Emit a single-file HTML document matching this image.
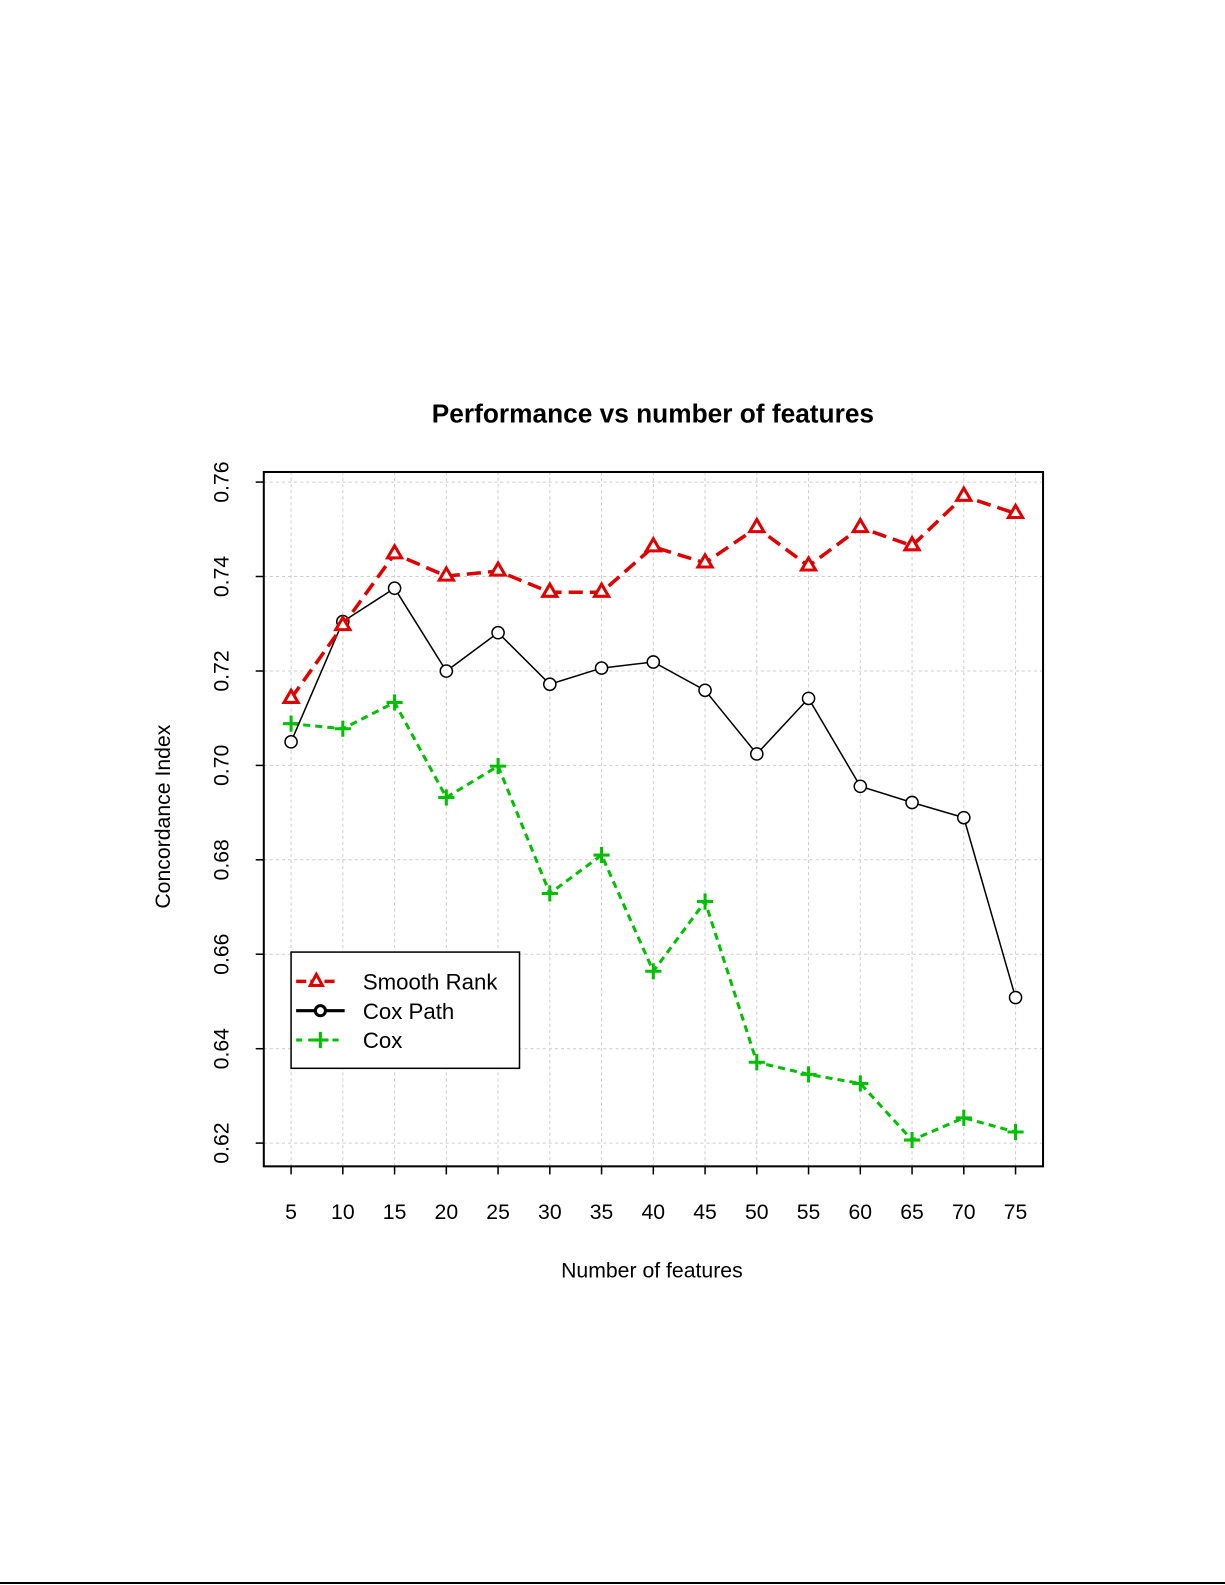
<!DOCTYPE html>
<html><head><style>body{margin:0;background:#fff}svg{display:block}</style></head><body>
<svg width="1225" height="1585" xmlns="http://www.w3.org/2000/svg" font-family="Liberation Sans, sans-serif">
<rect width="1225" height="1585" fill="#fff"/>
<line x1="0" y1="1583" x2="1225" y2="1583" stroke="#000" stroke-width="2"/>
<g transform="scale(1.0107)">
<text x="646" y="418" text-anchor="middle" font-size="26" font-weight="bold">Performance vs number of features</text>
<g stroke="#ccc" stroke-width="1" stroke-dasharray="3,3">
<line x1="288" y1="467" x2="288" y2="1154"/><line x1="339.2" y1="467" x2="339.2" y2="1154"/><line x1="390.4" y1="467" x2="390.4" y2="1154"/><line x1="441.6" y1="467" x2="441.6" y2="1154"/><line x1="492.8" y1="467" x2="492.8" y2="1154"/><line x1="544" y1="467" x2="544" y2="1154"/><line x1="595.2" y1="467" x2="595.2" y2="1154"/><line x1="646.4" y1="467" x2="646.4" y2="1154"/><line x1="697.6" y1="467" x2="697.6" y2="1154"/><line x1="748.8" y1="467" x2="748.8" y2="1154"/><line x1="800" y1="467" x2="800" y2="1154"/><line x1="851.2" y1="467" x2="851.2" y2="1154"/><line x1="902.4" y1="467" x2="902.4" y2="1154"/><line x1="953.6" y1="467" x2="953.6" y2="1154"/><line x1="1004.8" y1="467" x2="1004.8" y2="1154"/>
<line x1="261" y1="477" x2="1032" y2="477"/><line x1="261" y1="570.4" x2="1032" y2="570.4"/><line x1="261" y1="663.9" x2="1032" y2="663.9"/><line x1="261" y1="757.3" x2="1032" y2="757.3"/><line x1="261" y1="850.7" x2="1032" y2="850.7"/><line x1="261" y1="944.1" x2="1032" y2="944.1"/><line x1="261" y1="1037.6" x2="1032" y2="1037.6"/><line x1="261" y1="1131" x2="1032" y2="1131"/>
</g>
<rect x="261" y="467" width="771" height="687" fill="none" stroke="#000" stroke-width="2"/>
<g stroke="#000" stroke-width="1.5">
<line x1="261" y1="477" x2="253" y2="477"/><line x1="261" y1="570.4" x2="253" y2="570.4"/><line x1="261" y1="663.9" x2="253" y2="663.9"/><line x1="261" y1="757.3" x2="253" y2="757.3"/><line x1="261" y1="850.7" x2="253" y2="850.7"/><line x1="261" y1="944.1" x2="253" y2="944.1"/><line x1="261" y1="1037.6" x2="253" y2="1037.6"/><line x1="261" y1="1131" x2="253" y2="1131"/>
<line x1="288" y1="1154" x2="288" y2="1162"/><line x1="339.2" y1="1154" x2="339.2" y2="1162"/><line x1="390.4" y1="1154" x2="390.4" y2="1162"/><line x1="441.6" y1="1154" x2="441.6" y2="1162"/><line x1="492.8" y1="1154" x2="492.8" y2="1162"/><line x1="544" y1="1154" x2="544" y2="1162"/><line x1="595.2" y1="1154" x2="595.2" y2="1162"/><line x1="646.4" y1="1154" x2="646.4" y2="1162"/><line x1="697.6" y1="1154" x2="697.6" y2="1162"/><line x1="748.8" y1="1154" x2="748.8" y2="1162"/><line x1="800" y1="1154" x2="800" y2="1162"/><line x1="851.2" y1="1154" x2="851.2" y2="1162"/><line x1="902.4" y1="1154" x2="902.4" y2="1162"/><line x1="953.6" y1="1154" x2="953.6" y2="1162"/><line x1="1004.8" y1="1154" x2="1004.8" y2="1162"/>
</g>
<g font-size="21" text-anchor="middle">
<text x="288" y="1206">5</text><text x="339.2" y="1206">10</text><text x="390.4" y="1206">15</text><text x="441.6" y="1206">20</text><text x="492.8" y="1206">25</text><text x="544" y="1206">30</text><text x="595.2" y="1206">35</text><text x="646.4" y="1206">40</text><text x="697.6" y="1206">45</text><text x="748.8" y="1206">50</text><text x="800" y="1206">55</text><text x="851.2" y="1206">60</text><text x="902.4" y="1206">65</text><text x="953.6" y="1206">70</text><text x="1004.8" y="1206">75</text>
<text transform="translate(226,477) rotate(-90)">0.76</text><text transform="translate(226,570.4) rotate(-90)">0.74</text><text transform="translate(226,663.9) rotate(-90)">0.72</text><text transform="translate(226,757.3) rotate(-90)">0.70</text><text transform="translate(226,850.7) rotate(-90)">0.68</text><text transform="translate(226,944.1) rotate(-90)">0.66</text><text transform="translate(226,1037.6) rotate(-90)">0.64</text><text transform="translate(226,1131) rotate(-90)">0.62</text>
<text x="645" y="1264">Number of features</text>
<text transform="translate(168,808) rotate(-90)">Concordance Index</text>
</g>
<polyline fill="none" stroke="#00c000" stroke-width="3" stroke-dasharray="7,5" points="288,716 339.2,721 390.4,695 441.6,789 492.8,758 544,884 595.2,846 646.4,961 697.6,892 748.8,1051 800,1063 851.2,1072 902.4,1128 953.6,1106 1004.8,1120"/>
<g stroke="#00c000" stroke-width="3">
<path d="M280 716h16M288 708v16M331.2 721h16M339.2 713v16M382.4 695h16M390.4 687v16M433.6 789h16M441.6 781v16M484.8 758h16M492.8 750v16M536 884h16M544 876v16M587.2 846h16M595.2 838v16M638.4 961h16M646.4 953v16M689.6 892h16M697.6 884v16M740.8 1051h16M748.8 1043v16M792 1063h16M800 1055v16M843.2 1072h16M851.2 1064v16M894.4 1128h16M902.4 1120v16M945.6 1106h16M953.6 1098v16M996.8 1120h16M1004.8 1112v16"/>
</g>
<polyline fill="none" stroke="#000" stroke-width="1.5" points="288,734 339.2,615 390.4,582 441.6,664 492.8,626 544,677 595.2,661 646.4,655 697.6,683 748.8,746 800,691 851.2,778 902.4,794 953.6,809 1004.8,987"/>
<g fill="#fff" stroke="#000" stroke-width="1.5">
<circle cx="288" cy="734" r="6"/><circle cx="339.2" cy="615" r="6"/><circle cx="390.4" cy="582" r="6"/><circle cx="441.6" cy="664" r="6"/><circle cx="492.8" cy="626" r="6"/><circle cx="544" cy="677" r="6"/><circle cx="595.2" cy="661" r="6"/><circle cx="646.4" cy="655" r="6"/><circle cx="697.6" cy="683" r="6"/><circle cx="748.8" cy="746" r="6"/><circle cx="800" cy="691" r="6"/><circle cx="851.2" cy="778" r="6"/><circle cx="902.4" cy="794" r="6"/><circle cx="953.6" cy="809" r="6"/><circle cx="1004.8" cy="987" r="6"/>
</g>
<polyline fill="none" stroke="#e00000" stroke-width="3.5" stroke-dasharray="14,7" points="288,691 339.2,619 390.4,548 441.6,570 492.8,565 544,586 595.2,586 646.4,541 697.6,557 748.8,522 800,560 851.2,522 902.4,540 953.6,491 1004.8,508"/>
<g fill="#fff" stroke="#e00000" stroke-width="3">
<path d="M288 683l7 12h-14z"/><path d="M339.2 611l7 12h-14z"/><path d="M390.4 540l7 12h-14z"/><path d="M441.6 562l7 12h-14z"/><path d="M492.8 557l7 12h-14z"/><path d="M544 578l7 12h-14z"/><path d="M595.2 578l7 12h-14z"/><path d="M646.4 533l7 12h-14z"/><path d="M697.6 549l7 12h-14z"/><path d="M748.8 514l7 12h-14z"/><path d="M800 552l7 12h-14z"/><path d="M851.2 514l7 12h-14z"/><path d="M902.4 532l7 12h-14z"/><path d="M953.6 483l7 12h-14z"/><path d="M1004.8 500l7 12h-14z"/>
</g>
<rect x="288" y="942" width="226" height="115" fill="#fff" stroke="#000" stroke-width="1.5"/>
<line x1="293" y1="971" x2="333" y2="971" stroke="#e00000" stroke-width="3.5" stroke-dasharray="10,4"/>
<path d="M313 964l6 11h-12z" fill="#fff" stroke="#e00000" stroke-width="3"/>
<line x1="293" y1="1000" x2="341" y2="1000" stroke="#000" stroke-width="3"/>
<circle cx="317" cy="1000" r="5" fill="#fff" stroke="#000" stroke-width="3"/>
<line x1="293" y1="1029" x2="341" y2="1029" stroke="#00c000" stroke-width="3" stroke-dasharray="6,6"/>
<path d="M309 1029h16M317 1021v16" stroke="#00c000" stroke-width="3"/>
<g font-size="22"><text x="359" y="979">Smooth Rank</text><text x="359" y="1008">Cox Path</text><text x="359" y="1037">Cox</text></g>
</g>
</svg>
</body></html>
